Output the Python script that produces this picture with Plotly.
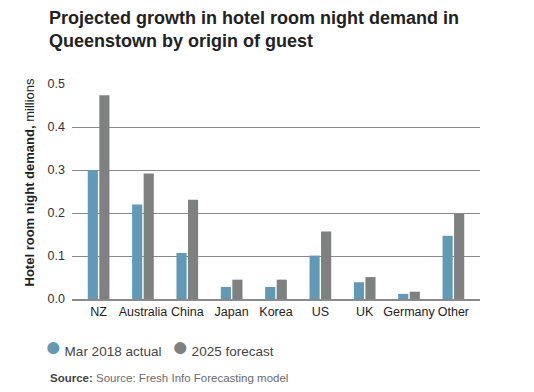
import plotly.graph_objects as go

categories = ["NZ", "Australia", "China", "Japan", "Korea", "US", "UK", "Germany", "Other"]
actual_2018 = [0.300, 0.220, 0.107, 0.028, 0.028, 0.101, 0.039, 0.012, 0.147]
forecast_2025 = [0.474, 0.292, 0.231, 0.045, 0.045, 0.157, 0.051, 0.017, 0.198]
series_names = ["Mar 2018 actual", "2025 forecast"]
y_ticks = [0.0, 0.1, 0.2, 0.3, 0.4, 0.5]
y_tick_labels = ["0.0", "0.1", "0.2", "0.3", "0.4", "0.5"]

BLUE = "#5f9ab6"
GREY = "#7f8080"
FONT = "Liberation Sans, Arial, sans-serif"

fig = go.Figure()
fig.add_trace(go.Bar(x=categories, y=actual_2018, name=series_names[0],
                     marker=dict(color=BLUE, line=dict(width=0)), showlegend=False))
fig.add_trace(go.Bar(x=categories, y=forecast_2025, name=series_names[1],
                     marker=dict(color=GREY, line=dict(width=0)), showlegend=False))

annotations = [
    # title
    dict(text="<b>Projected growth in hotel room night demand in<br>Queenstown by origin of guest</b>",
         xref="paper", yref="paper", x=-0.0613, xanchor="left", y=1.365, yanchor="top",
         align="left", showarrow=False,
         font=dict(size=18, color="#222222", family=FONT)),
    # y-axis title
    dict(text="<b>Hotel room night demand,</b> millions",
         xref="paper", yref="paper", x=-0.103, xanchor="center", y=0.5465, yanchor="middle",
         textangle=-90, showarrow=False,
         font=dict(size=13, color="#222222", family=FONT)),
    # source
    dict(text="<b style='color:#444444'>Source:</b> Source: Fresh Info Forecasting model",
         xref="paper", yref="paper", x=-0.0588, xanchor="left", y=-0.367, yanchor="middle",
         showarrow=False, font=dict(size=11.5, color="#6a6a6a", family=FONT)),
]
# legend items (circle glyph + label)
legend_x = [-0.0700, 0.2390]
for nm, col, lx in zip(series_names, [BLUE, GREY], legend_x):
    annotations.append(dict(
        text=f"<span style='color:{col};font-size:28px'>●</span><span style='font-size:13.5px'>\u2009{nm}</span>",
        xref="paper", yref="paper", x=lx, xanchor="left", y=-0.22, yanchor="middle",
        showarrow=False, font=dict(size=13.5, color="#444444", family=FONT)))

fig.update_layout(
    width=534, height=392,
    margin=dict(l=64, r=62, t=76, b=101),
    paper_bgcolor="white", plot_bgcolor="white",
    barmode="group", bargap=0.48, bargroupgap=0.12,
    font=dict(family=FONT, color="#333333", size=12),
    showlegend=False,
    xaxis=dict(range=[-0.6, 8.6], showgrid=False, showline=True, linecolor="#8a8a8a",
               linewidth=1.5, ticks="", tickfont=dict(size=12.5, color="#222222"),
               fixedrange=True),
    yaxis=dict(range=[0, 0.5], tickvals=y_ticks, ticktext=y_tick_labels,
               showgrid=True, gridcolor="#8a8a8a", gridwidth=1.3, zeroline=False,
               ticks="", ticklabelstandoff=6, tickfont=dict(size=12.5, color="#333333"),
               fixedrange=True),
    annotations=annotations,
)

fig.write_html("out.html")
